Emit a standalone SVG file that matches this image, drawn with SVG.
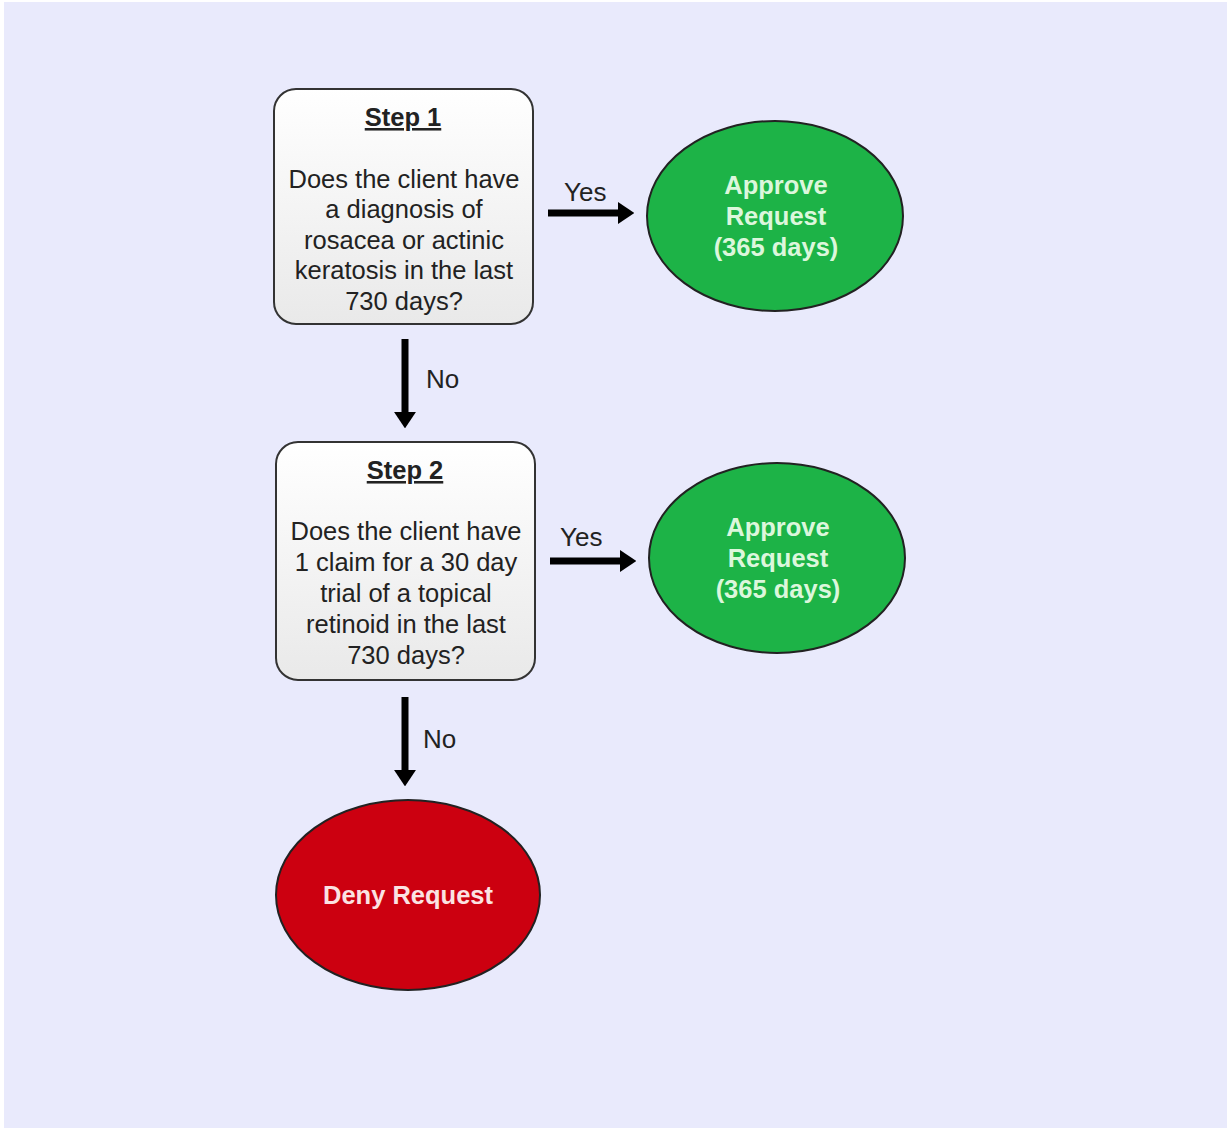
<svg xmlns="http://www.w3.org/2000/svg" width="1227" height="1128" viewBox="0 0 1227 1128">
<defs>
<linearGradient id="boxg" x1="0" y1="0" x2="0" y2="1">
<stop offset="0" stop-color="#ffffff"/>
<stop offset="1" stop-color="#e9e9e9"/>
</linearGradient>
<marker id="ah" markerWidth="2.4" markerHeight="3.2" refX="0.2" refY="1.6" orient="auto" markerUnits="strokeWidth">
<path d="M0,0 L2.4,1.6 L0,3.2 Z" fill="#000"/>
</marker>
<style>
.box{fill:url(#boxg);stroke:#333;stroke-width:2}
.q{font-family:"Liberation Sans",Arial,sans-serif;font-size:25.5px;fill:#222;text-anchor:middle}
.h{font-weight:bold;text-decoration:underline}
.lbl{font-family:"Liberation Sans",Arial,sans-serif;font-size:26px;fill:#222}
.ok{fill:#1db347;stroke:#222;stroke-width:2}
.no{fill:#cc0010;stroke:#222;stroke-width:2}
.et{font-family:"Liberation Sans",Arial,sans-serif;font-size:25.5px;font-weight:bold;text-anchor:middle}
.conn{stroke:#000;stroke-width:7;fill:none;marker-end:url(#ah)}
</style>
</defs>
<rect width="1227" height="1128" fill="#ffffff"/>
<rect x="4" y="2" width="1223" height="1126" fill="#e9eafc"/>
<g id="connectors">
<line class="conn" x1="548" y1="213" x2="619" y2="213"/>
<line class="conn" x1="405" y1="339" x2="405" y2="413"/>
<line class="conn" x1="550" y1="561" x2="621" y2="561"/>
<line class="conn" x1="405" y1="697" x2="405" y2="771"/>
<text class="lbl" x="564" y="201">Yes</text>
<text class="lbl" x="426" y="388">No</text>
<text class="lbl" x="560" y="546">Yes</text>
<text class="lbl" x="423" y="748">No</text>
</g>
<g id="step1">
<rect class="box" x="274" y="89" width="259" height="235" rx="22"/>
<text class="q h" x="403" y="126">Step 1</text>
<text class="q" x="404" y="188">Does the client have</text>
<text class="q" x="404" y="218">a diagnosis of</text>
<text class="q" x="404" y="249">rosacea or actinic</text>
<text class="q" x="404" y="279">keratosis in the last</text>
<text class="q" x="404" y="310">730 days?</text>
</g>
<g id="approve1">
<ellipse class="ok" cx="775" cy="216" rx="128" ry="95"/>
<text class="et" x="776" y="194" fill="#dcf7dc">Approve</text>
<text class="et" x="776" y="225" fill="#dcf7dc">Request</text>
<text class="et" x="776" y="256" fill="#dcf7dc">(365 days)</text>
</g>
<g id="step2">
<rect class="box" x="276" y="442" width="259" height="238" rx="22"/>
<text class="q h" x="405" y="479">Step 2</text>
<text class="q" x="406" y="540">Does the client have</text>
<text class="q" x="406" y="571">1 claim for a 30 day</text>
<text class="q" x="406" y="602">trial of a topical</text>
<text class="q" x="406" y="633">retinoid in the last</text>
<text class="q" x="406" y="664">730 days?</text>
</g>
<g id="approve2">
<ellipse class="ok" cx="777" cy="558" rx="128" ry="95"/>
<text class="et" x="778" y="536" fill="#dcf7dc">Approve</text>
<text class="et" x="778" y="567" fill="#dcf7dc">Request</text>
<text class="et" x="778" y="598" fill="#dcf7dc">(365 days)</text>
</g>
<g id="deny">
<ellipse class="no" cx="408" cy="895" rx="132" ry="95"/>
<text class="et" x="408" y="904" fill="#fbe3e3">Deny Request</text>
</g>
</svg>
